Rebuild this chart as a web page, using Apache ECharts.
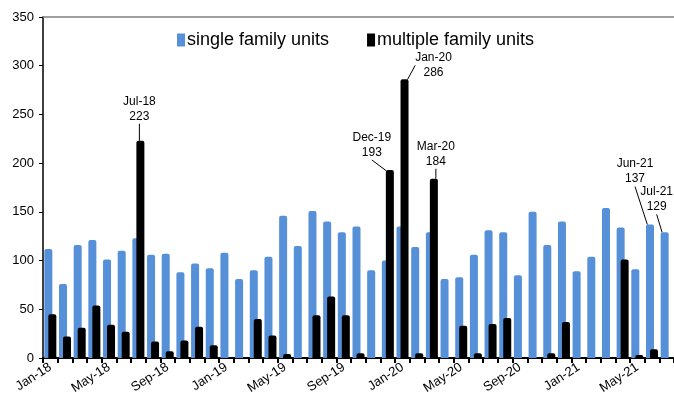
<!DOCTYPE html>
<html>
<head>
<meta charset="utf-8">
<script src="https://cdn.jsdelivr.net/npm/echarts@6/dist/echarts.min.js"></script>
<style>
  html, body { margin: 0; padding: 0; background: #fff; }
  #chart { width: 674px; height: 405px; }
</style>
</head>
<body>
<div id="chart"></div>
<script>
// months, Jan-18 .. Jul-21
const months = [
  'Jan-18', 'Feb-18', 'Mar-18', 'Apr-18', 'May-18', 'Jun-18', 'Jul-18', 'Aug-18', 'Sep-18', 'Oct-18', 'Nov-18', 'Dec-18',
  'Jan-19', 'Feb-19', 'Mar-19', 'Apr-19', 'May-19', 'Jun-19', 'Jul-19', 'Aug-19', 'Sep-19', 'Oct-19', 'Nov-19', 'Dec-19',
  'Jan-20', 'Feb-20', 'Mar-20', 'Apr-20', 'May-20', 'Jun-20', 'Jul-20', 'Aug-20', 'Sep-20', 'Oct-20', 'Nov-20', 'Dec-20',
  'Jan-21', 'Feb-21', 'Mar-21', 'Apr-21', 'May-21', 'Jun-21', 'Jul-21'
]

const singleFamily = [
  112, 76, 116, 121, 101, 110, 123, 106, 107, 88, 97, 92,
  108, 81, 90, 104, 146, 115, 151, 140, 129, 135, 90, 100,
  135, 114, 129, 81, 83, 106, 131, 129, 85, 150, 116, 140,
  89, 104, 154, 134, 91, 137, 129
]

const multipleFamily = [
  45, 22, 31, 54, 34, 27, 223, 17, 7, 18, 32, 13,
  0, 0, 40, 23, 4, 0, 44, 63, 44, 5, 0, 193,
  286, 5, 184, 0, 33, 5, 35, 41, 0, 0, 5, 37,
  0, 0, 0, 101, 3, 9, 0
]

const yTicks = [0, 50, 100, 150, 200, 250, 300, 350]

// which bars get a callout: [series, month index, dx, dy]
const callouts = [
  [1, 6, -1, -12],
  [1, 23, -18, -5],
  [1, 24, 29, 6],
  [1, 26, 2, -5],
  [0, 41, -15, -33],
  [0, 42, -8, -13]
]

const font = 'Liberation Sans, Arial, sans-serif'

function withCallouts(values, seriesIdx) {
  return values.map((v, i) => {
    const c = callouts.find(c => c[0] === seriesIdx && c[1] === i)
    if (!c) return v
    return {
      value: v,
      label: { show: true, formatter: months[i] + '\n' + v },
      labelLine: { show: true }
    }
  })
}

function layoutFor(seriesIdx) {
  return params => {
    const c = callouts.find(c => c[0] === seriesIdx && c[1] === params.dataIndex)
    if (!c) return {}
    return { dx: c[2], dy: c[3] }
  }
}

const calloutLabel = {
  show: false,
  position: 'top',
  distance: 5,
  color: '#000',
  fontFamily: font,
  fontSize: 12,
  lineHeight: 15
}

const calloutLine = {
  show: false,
  lineStyle: { color: '#000', width: 1 }
}

const chart = echarts.init(document.getElementById('chart'))
chart.setOption({
  animation: false,
  textStyle: { fontFamily: font },
  grid: { left: 43, top: 17, width: 633, bottom: 47 },
  legend: {
    top: 26,
    left: 172,
    itemWidth: 8,
    itemHeight: 13,
    itemGap: 38,
    icon: 'rect',
    textStyle: { fontSize: 18, color: '#000', padding: [0, 0, 0, -3] },
    data: ['single family units', 'multiple family units']
  },
  xAxis: [
    {
      type: 'category',
      data: months,
      axisLine: { lineStyle: { color: '#000', width: 2 } },
      axisTick: { show: true, interval: 0, length: 5, lineStyle: { color: '#000', width: 2 } },
      axisLabel: { interval: 3, rotate: 33, fontSize: 13, color: '#000', margin: 8 }
    },
    {
      type: 'category',
      position: 'top',
      data: months,
      axisLine: { lineStyle: { color: '#808080', width: 1.5 } },
      axisTick: { show: false },
      axisLabel: { show: false }
    }
  ],
  yAxis: {
    type: 'value',
    min: yTicks[0],
    max: yTicks[yTicks.length - 1],
    interval: 50,
    splitLine: { show: false },
    axisLine: { show: true, lineStyle: { color: '#000', width: 1.5 } },
    axisTick: { show: true, length: 4, lineStyle: { color: '#000' } },
    axisLabel: { fontSize: 13, color: '#000', margin: 9 }
  },
  series: [
    {
      name: 'single family units',
      type: 'bar',
      barWidth: 8,
      barGap: '-50%',
      itemStyle: { color: '#5590d8', borderRadius: [2, 2, 0, 0] },
      data: withCallouts(singleFamily, 0),
      label: calloutLabel,
      labelLine: calloutLine,
      labelLayout: layoutFor(0)
    },
    {
      name: 'multiple family units',
      type: 'bar',
      barWidth: 8,
      barGap: '-50%',
      itemStyle: { color: '#000', borderRadius: [2, 2, 0, 0] },
      data: withCallouts(multipleFamily, 1),
      label: calloutLabel,
      labelLine: calloutLine,
      labelLayout: layoutFor(1)
    }
  ]
})
</script>
</body>
</html>
